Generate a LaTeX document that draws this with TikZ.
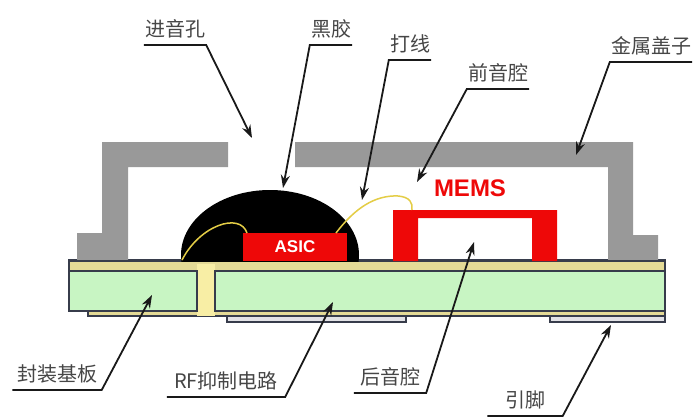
\documentclass[tikz,border=0pt]{standalone}
\usepackage{fontspec}
\setmainfont{Liberation Sans}
\newfontfamily\cjk{Noto Sans CJK SC}
\usetikzlibrary{arrows.meta}
\definecolor{capgray}{RGB}{153,153,153}
\definecolor{chipred}{RGB}{238,8,8}
\definecolor{coregreen}{RGB}{200,245,195}
\definecolor{layeryellow}{RGB}{228,218,150}
\definecolor{viayellow}{RGB}{248,238,165}
\definecolor{edgedark}{RGB}{55,60,75}
\definecolor{padgray}{RGB}{226,226,230}
\definecolor{wireyellow}{RGB}{228,205,70}
\definecolor{labelgray}{RGB}{70,70,70}
\definecolor{leadblack}{RGB}{25,25,25}

\begin{document}
\begin{tikzpicture}[x=1pt, y=-1pt,
    lbl/.style={font=\cjk\fontsize{20}{24}\selectfont, text=labelgray, inner xsep=1pt, inner ysep=0pt, text height=15pt, text depth=8pt, anchor=south},
    leader/.style={draw=leadblack, line width=1.8pt, -{Stealth[length=13pt,width=9pt]}},
    layer/.style={draw=edgedark, line width=1.2pt},
    chiptext/.style={font=\bfseries\fontsize{17}{20}\selectfont, text=white},
    wire/.style={draw=wireyellow, line width=1.5pt}]
      \path[use as bounding box, fill=white] (0,0) rectangle (698,417);

      % substrate
      \filldraw[layer, fill=layeryellow] (69,260) rectangle (665,271);
      \filldraw[layer, fill=layeryellow] (88,311) rectangle (665,316);
      \fill[viayellow] (197,264) rectangle (215,316);
      \filldraw[layer, fill=coregreen] (69,271) rectangle (197,311);
      \filldraw[layer, fill=coregreen] (215,271) rectangle (665,311);
      \filldraw[layer, fill=padgray] (227,316) rectangle (406,322);
      \filldraw[layer, fill=padgray] (550,316) rectangle (665,322);

      % metal cap
      \fill[capgray] (77,261) -- (77,233) -- (102,233) -- (102,142) -- (228,142) -- (228,167) -- (128,167) -- (128,261) -- cycle;
      \fill[capgray] (295,142) -- (633,142) -- (633,235) -- (658,235) -- (658,261) -- (608,261) -- (608,167) -- (295,167) -- cycle;
      \draw[edgedark, line width=2.5pt] (69,261) -- (665,261);

      % glob top and chips
      \begin{scope}
        \clip (150,150) rectangle (400,261);
        \fill[black] (270,255) ellipse [x radius=89, y radius=65];
      \end{scope}
      \fill[chipred] (243,233) rectangle (347,261);
      \node(asic) [chiptext] at (295,247) {ASIC};
      \fill[chipred] (393,261) -- (393,210) -- (557,210) -- (557,261) -- (532,261) -- (532,218) -- (418,218) -- (418,261) -- cycle;
      \node(mems) [font=\bfseries\fontsize{24}{28}\selectfont, text=chipred] at (470,188) {MEMS};

      % bond wires
      \draw[wire] (182,260) .. controls (200,225) and (240,212) .. (247,233);
      \draw[wire] (336,233) .. controls (355,208) and (375,195) .. (398,196) .. controls (410,197) and (413,203) .. (412,210);

      \node(hole) [lbl] at (175,45) {进音孔};
      \node(glue) [lbl] at (331,45) {黑胶};
      \node(bond) [lbl] at (410,60) {打线};
      \node(front) [lbl] at (498,89) {前音腔};
      \node(lid) [lbl] at (651,62) {金属盖子};
      \node(board) [lbl, minimum width=89pt] at (57,390) {封装基板};
      \node(rf) [lbl, minimum width=118pt] at (226,397) {RF抑制电路};
      \node(back) [lbl, minimum width=72pt] at (390,393) {后音腔};
      \node(pin) [lbl, minimum width=75pt] at (525,416) {引脚};

      \coordinate(holetip) at (252,138);
      \coordinate(gluetip) at (283,188);
      \coordinate(bondtip) at (362,200);
      \coordinate(fronttip) at (417,182);
      \coordinate(lidtip) at (576,155);
      \coordinate(boardtip) at (152,295);
      \coordinate(rftip) at (333,302);
      \coordinate(backtip) at (474,242);
      \coordinate(pintip) at (611,325);

      \draw[leader] (hole.south west) -- (hole.south east) -- (holetip);
      \draw[leader] (glue.south east) -- (glue.south west) -- (gluetip);
      \draw[leader] (bond.south east) -- (bond.south west) -- (bondtip);
      \draw[leader] (front.south east) -- (front.south west) -- (fronttip);
      \draw[leader] (lid.south east) -- (lid.south west) -- (lidtip);
      \draw[leader] (board.south west) -- (board.south east) -- (boardtip);
      \draw[leader] (rf.south west) -- (rf.south east) -- (rftip);
      \draw[leader] (back.south west) -- (back.south east) -- (backtip);
      \draw[leader] (pin.south west) -- (pin.south east) -- (pintip);
\end{tikzpicture}
\end{document}
